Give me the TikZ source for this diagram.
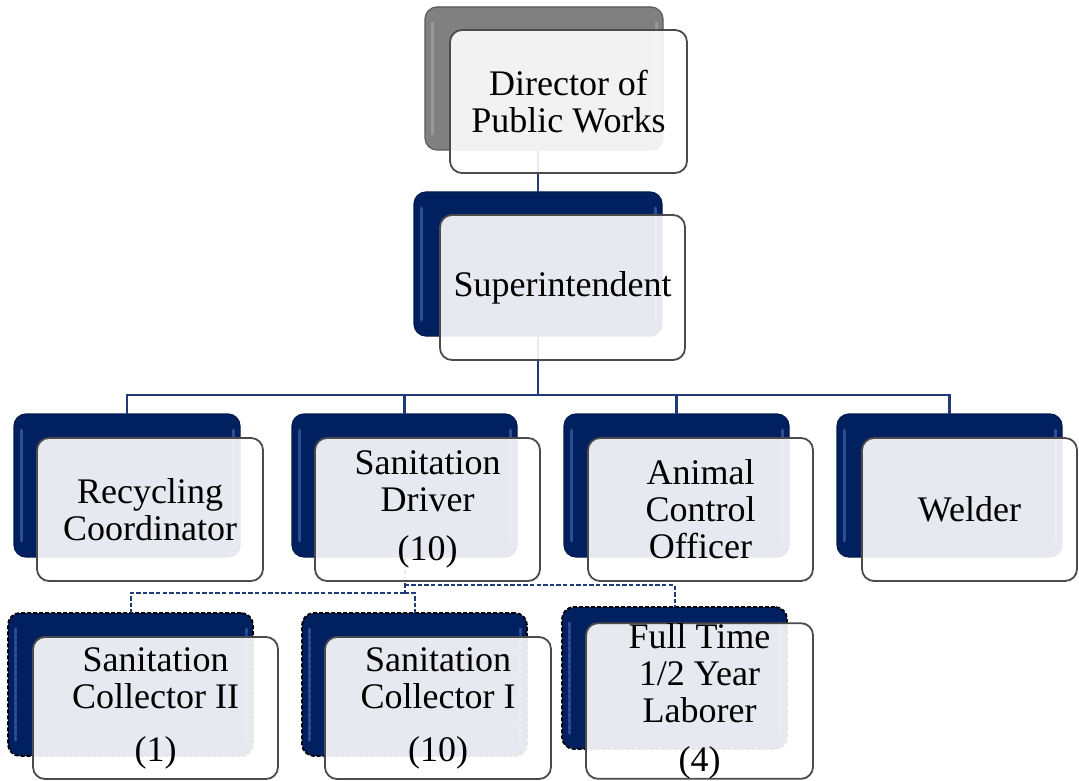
\documentclass[tikz,border=0pt]{standalone}
\usepackage{fontspec}
\setmainfont{Liberation Serif}
\definecolor{navy}{RGB}{0,32,96}
\definecolor{navyhi}{RGB}{45,78,150}
\definecolor{linkblue}{RGB}{32,58,122}
\definecolor{edgegray}{RGB}{75,75,75}
\begin{document}
\begin{tikzpicture}[x=0.5pt,y=-0.5pt,
    box/.style={rectangle,rounded corners=6pt,inner sep=0pt,outer sep=0pt,
      minimum width=112.5pt,minimum height=71.5pt},
    backbox/.style={box,fill=navy,draw=navy!80!black,line width=0.6pt,
      path picture={
        \draw[navyhi,line width=1.5pt,line cap=round]
          ([xshift=3.5pt,yshift=-8pt]path picture bounding box.north west) --
          ([xshift=3.5pt,yshift=8pt]path picture bounding box.south west);
        \draw[navyhi,line width=1.5pt,line cap=round]
          ([xshift=-3.5pt,yshift=-8pt]path picture bounding box.north east) --
          ([xshift=-3.5pt,yshift=8pt]path picture bounding box.south east);}},
    graybox/.style={backbox,fill=gray,draw=gray!70!black,
      path picture={
        \draw[gray!80!white,line width=1.5pt,line cap=round]
          ([xshift=3.5pt,yshift=-8pt]path picture bounding box.north west) --
          ([xshift=3.5pt,yshift=8pt]path picture bounding box.south west);
        \draw[gray!80!white,line width=1.5pt,line cap=round]
          ([xshift=-3.5pt,yshift=-8pt]path picture bounding box.north east) --
          ([xshift=-3.5pt,yshift=8pt]path picture bounding box.south east);}},
    dashbox/.style={backbox,draw=black,line width=0.9pt,dash pattern=on 2pt off 1pt},
    frontbox/.style={box,fill=white,fill opacity=0.9,text opacity=1,
      draw=edgegray,line width=0.9pt,align=center,
      font=\fontsize{18}{18.5}\selectfont},
    link/.style={draw=linkblue,line width=1.3pt},
    sublink/.style={draw=linkblue,line width=1pt,dash pattern=on 2.2pt off 1.1pt}]
  \useasboundingbox (0,0) rectangle (1079,780);
  % back shapes
  \node[graybox,minimum width=119pt] (dirB) at (544,78.5) {};
  \node[backbox,minimum width=124pt,minimum height=72pt] (supB) at (538,264) {};
  \node[backbox,minimum width=113pt] (recB) at (127,485.5) {};
  \node[backbox] (drvB) at (404.5,485.5) {};
  \node[backbox] (aniB) at (676.5,485.5) {};
  \node[backbox] (welB) at (949.5,485.5) {};
  \node[dashbox,minimum width=122.5pt] (c2B) at (130.5,684.5) {};
  \node[dashbox] (c1B) at (414.5,684.5) {};
  \node[dashbox,minimum height=71pt] (ftB) at (674.5,678) {};
  % solid links
  \draw[link] (dirB.south -| supB.north) -- (supB.north);
  \coordinate (bus) at (538,395);
  \draw[link] (supB.south) -- (bus);
  \draw[link] (recB.north) -- (recB.north |- bus) -- (welB.north |- bus) -- (welB.north);
  \draw[link] (drvB.north) -- (drvB.north |- bus);
  \draw[link] (aniB.north) -- (aniB.north |- bus);
  % dashed links
  \coordinate (dashR) at (404.5,585);
  \coordinate (dashL) at (404.5,593);
  \draw[sublink] (drvB.south) -- (dashL);
  \draw[sublink] (dashR) -| (ftB.north);
  \draw[sublink] (dashL) -| (c2B.north);
  \draw[sublink] (dashL) -| (c1B.north);
  % front shapes
  \node[frontbox,minimum width=118.5pt] (dir) at (568.5,101.5) {Director of\\Public Works};
  \node[frontbox,minimum width=122.5pt,minimum height=72.5pt] (sup) at (562.5,287.5) {Superintendent};
  \node[frontbox,minimum width=113pt] (rec) at (150,509.5) {Recycling\\Coordinator};
  \node[frontbox] (drv) at (427.5,509.5) {Sanitation\\Driver\\[6pt](10)};
  \node[frontbox] (ani) at (700.5,509.5) {Animal\\Control\\Officer};
  \node[frontbox,minimum width=107.5pt] (wel) at (969.5,509.5) {Welder};
  \node[frontbox,minimum width=122.5pt,minimum height=71pt] (c2) at (155.5,708) {Sanitation\\Collector II\\[8pt](1)};
  \node[frontbox,minimum width=113pt,minimum height=71pt] (c1) at (438,708) {Sanitation\\Collector I\\[8pt](10)};
  \node[frontbox,minimum width=113.5pt,minimum height=72pt] (ft) at (699.5,701) {Full Time\\1/2 Year\\Laborer\\[6pt](4)};
\end{tikzpicture}
\end{document}
